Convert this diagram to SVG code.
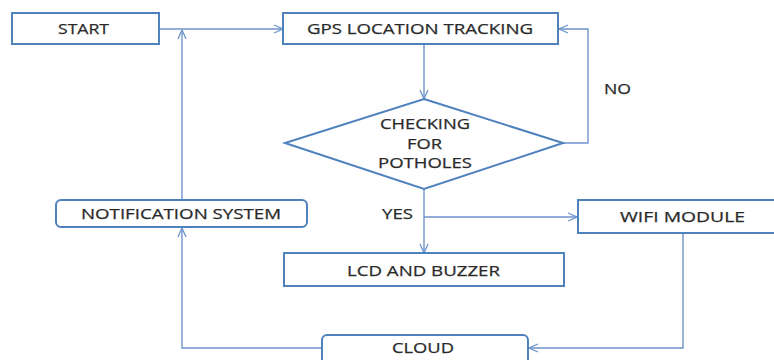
<svg xmlns="http://www.w3.org/2000/svg" width="774" height="360" viewBox="0 0 774 360">
<defs>
<marker id="arr" viewBox="0 0 10 10" refX="10" refY="5" markerWidth="10" markerHeight="10" markerUnits="userSpaceOnUse" orient="auto">
<path d="M1,1 L10,5 L1,9" fill="none" stroke="#6F94CC" stroke-width="1.3"/>
</marker>
<style>
.box{fill:#fff;stroke:#4F81BD;stroke-width:2}
.t{font-family:"Open Sans","Liberation Sans",sans-serif;font-size:15px;fill:#2a2a2a;text-anchor:middle;stroke:#2a2a2a;stroke-width:0.25}
.c{fill:none;stroke:#6F94CC;stroke-width:1.4}
</style>
</defs>
<rect width="774" height="360" fill="#fff"/>
<g id="connectors">
<path class="c" d="M159,29 L283,29" marker-end="url(#arr)"/>
<path class="c" d="M182,200 L182,30" marker-end="url(#arr)"/>
<path class="c" d="M424,44 L424,99" marker-end="url(#arr)"/>
<path class="c" d="M563,143 L588,143 L588,29 L559,29" marker-end="url(#arr)"/>
<path class="c" d="M424,189 L424,253" marker-end="url(#arr)"/>
<path class="c" d="M424,217 L577,217" marker-end="url(#arr)"/>
<path class="c" d="M683,233 L683,348 L529,348" marker-end="url(#arr)"/>
<path class="c" d="M322,348 L182,348 L182,228" marker-end="url(#arr)"/>
</g>
<g id="start"><rect class="box" x="12" y="13" width="147" height="31"/><text class="t" x="83.5" y="34" textLength="51" lengthAdjust="spacingAndGlyphs">START</text></g>
<g id="gps"><rect class="box" x="283" y="13" width="275" height="31"/><text class="t" x="420" y="34" textLength="226" lengthAdjust="spacingAndGlyphs">GPS LOCATION TRACKING</text></g>
<g id="check"><polygon class="box" points="424,99 563,143 424,189 285,143"/>
<text class="t" x="425" y="129" textLength="90" lengthAdjust="spacingAndGlyphs">CHECKING</text><text class="t" x="424.5" y="149" textLength="35" lengthAdjust="spacingAndGlyphs">FOR</text><text class="t" x="425" y="168" textLength="94" lengthAdjust="spacingAndGlyphs">POTHOLES</text></g>
<g id="notif"><rect class="box" x="56" y="200" width="251" height="27" rx="5"/><text class="t" x="181" y="219" textLength="200" lengthAdjust="spacingAndGlyphs">NOTIFICATION SYSTEM</text></g>
<g id="wifi"><rect class="box" x="578" y="200" width="200" height="33"/><text class="t" x="682.5" y="222" textLength="125" lengthAdjust="spacingAndGlyphs">WIFI MODULE</text></g>
<g id="lcd"><rect class="box" x="284" y="253" width="280" height="33"/><text class="t" x="423.5" y="276" textLength="153" lengthAdjust="spacingAndGlyphs">LCD AND BUZZER</text></g>
<g id="cloud"><rect class="box" x="322" y="335" width="206" height="33" rx="5"/><text class="t" x="423" y="353" textLength="62" lengthAdjust="spacingAndGlyphs">CLOUD</text></g>
<text class="t" x="617.5" y="94" textLength="27" lengthAdjust="spacingAndGlyphs">NO</text>
<text class="t" x="397.5" y="219" textLength="31" lengthAdjust="spacingAndGlyphs">YES</text>
</svg>
